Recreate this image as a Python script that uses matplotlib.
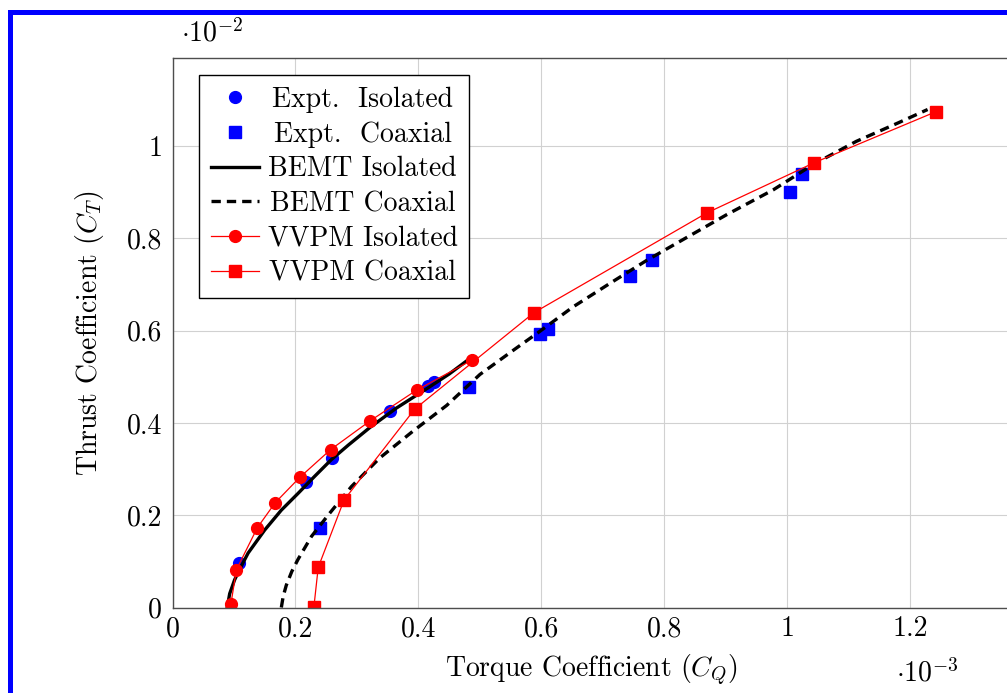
import matplotlib
matplotlib.use("Agg")
import matplotlib.pyplot as plt
from matplotlib.patches import Rectangle
from matplotlib.ticker import FuncFormatter
from matplotlib.transforms import Affine2D

plt.rcParams["font.family"] = "cmr10"
plt.rcParams["mathtext.fontset"] = "cm"
plt.rcParams["axes.formatter.use_mathtext"] = True
plt.rcParams["axes.unicode_minus"] = False

# C_Q in units of 1e-3, C_T in units of 1e-2 (as shown on the axes)
expt_iso_cq = [0.108, 0.217, 0.260, 0.354, 0.416, 0.425]
expt_iso_ct = [0.096, 0.271, 0.323, 0.425, 0.479, 0.489]

expt_coax_cq = [0.240, 0.483, 0.598, 0.611, 0.744, 0.780, 1.005, 1.024]
expt_coax_ct = [0.173, 0.477, 0.592, 0.604, 0.718, 0.752, 0.901, 0.939]

bemt_iso_cq = [0.089, 0.093, 0.101, 0.112, 0.123, 0.150, 0.177, 0.204, 0.231,
               0.258, 0.286, 0.321, 0.364, 0.418, 0.450, 0.481]
bemt_iso_ct = [0.000, 0.030, 0.060, 0.090, 0.118, 0.168, 0.211, 0.247, 0.284,
               0.320, 0.352, 0.390, 0.432, 0.478, 0.506, 0.537]

bemt_coax_cq = [0.177, 0.180, 0.185, 0.194, 0.204, 0.226, 0.253, 0.291, 0.337,
                0.391, 0.446, 0.500, 0.557, 0.597, 0.651, 0.711, 0.771, 0.830,
                0.901, 0.977, 1.042, 1.112, 1.180, 1.228]
bemt_coax_ct = [0.000, 0.024, 0.048, 0.078, 0.104, 0.154, 0.200, 0.262, 0.324,
                0.382, 0.438, 0.505, 0.560, 0.598, 0.651, 0.702, 0.752, 0.797,
                0.851, 0.905, 0.960, 1.010, 1.050, 1.079]

vvpm_iso_cq = [0.095, 0.104, 0.138, 0.167, 0.207, 0.257, 0.322, 0.397, 0.487]
vvpm_iso_ct = [0.008, 0.082, 0.173, 0.227, 0.282, 0.342, 0.405, 0.471, 0.536]

vvpm_coax_cq = [0.230, 0.237, 0.279, 0.394, 0.588, 0.869, 1.044, 1.241]
vvpm_coax_ct = [0.002, 0.087, 0.233, 0.430, 0.639, 0.855, 0.964, 1.074]

xticks = [0, 0.2, 0.4, 0.6, 0.8, 1.0, 1.2]
yticks = [0, 0.2, 0.4, 0.6, 0.8, 1.0]

W, H = 1007, 693
fig = plt.figure(figsize=(W / 100, H / 100), dpi=100)

# blue frame (only top/left visible, rest cropped)
fig.patches.append(Rectangle((9.5 / W, -0.1), 1.2, 1.1 - 12.5 / H,
                             transform=fig.transFigure, fill=False,
                             edgecolor="blue", linewidth=3.6))

left, right, top, bottom = 172.5, 1010, 58.3, 607.5
ax = fig.add_axes([left / W, 1 - bottom / H, (right - left) / W, (bottom - top) / H])

ax.plot(expt_iso_cq, expt_iso_ct, "o", color="blue", markersize=8.5,
        linestyle="none", label="Expt.  Isolated")
ax.plot(expt_coax_cq, expt_coax_ct, "s", color="blue", markersize=8,
        linestyle="none", label="Expt.  Coaxial")
ax.plot(bemt_iso_cq, bemt_iso_ct, "-", color="black", linewidth=2.4,
        label="BEMT Isolated")
ax.plot(bemt_coax_cq, bemt_coax_ct, color="black", linewidth=2.4,
        dashes=(2.8, 1.8), label="BEMT Coaxial")
ax.plot(vvpm_iso_cq, vvpm_iso_ct, "-o", color="red", linewidth=0.9,
        markersize=8.5, label="VVPM Isolated")
ax.plot(vvpm_coax_cq, vvpm_coax_ct, "-s", color="red", linewidth=0.9,
        markersize=8, label="VVPM Coaxial")

ax.set_xlim(0, 1.362)
ax.set_ylim(0, 1.19)
ax.set_xticks(xticks)
ax.set_yticks(yticks)
fmt = FuncFormatter(lambda v, p: "%g" % round(v, 3))
ax.xaxis.set_major_formatter(fmt)
ax.yaxis.set_major_formatter(fmt)
ax.tick_params(axis="both", length=0, labelsize=20)
ax.tick_params(axis="x", pad=6)
ax.tick_params(axis="y", pad=7.5)
ax.grid(True, color="0.82", linewidth=0.8)
ax.set_axisbelow(True)
for s in ax.spines.values():
    s.set_color("0.3")
    s.set_linewidth(1.0)

ax.set_xlabel(r"Torque Coefficient ($C_Q$)", fontsize=20, labelpad=8)
ax.set_ylabel(r"Thrust Coefficient ($C_T$)", fontsize=20, labelpad=15)

fig.text(181 / W, 1 - 42 / H, r"$\cdot 10^{-2}$", fontsize=20, ha="left", va="baseline")
fig.text(896 / W, 1 - 682 / H, r"$\cdot 10^{-3}$", fontsize=20, ha="left", va="baseline")

leg_x = (199 - left) / (right - left)
leg_y = (bottom - 75) / (bottom - top)
leg = ax.legend(loc="upper left", bbox_to_anchor=(leg_x, leg_y), borderaxespad=0,
                fontsize=20, frameon=True, fancybox=False, framealpha=1,
                edgecolor="black", handlelength=1.75, handletextpad=0.3,
                labelspacing=0.3, borderpad=0.42)
leg.get_frame().set_linewidth(1.0)

# centre the legend labels in their column, like the pgfplots legend
renderer = fig.canvas.get_renderer()
texts = leg.get_texts()
widths = [t.get_window_extent(renderer).width for t in texts]
wmax = max(widths)
for t, w in zip(texts, widths):
    t.set_transform(t.get_transform() + Affine2D().translate((wmax - w) / 2, 0))

fig.savefig("out.png", dpi=100)
